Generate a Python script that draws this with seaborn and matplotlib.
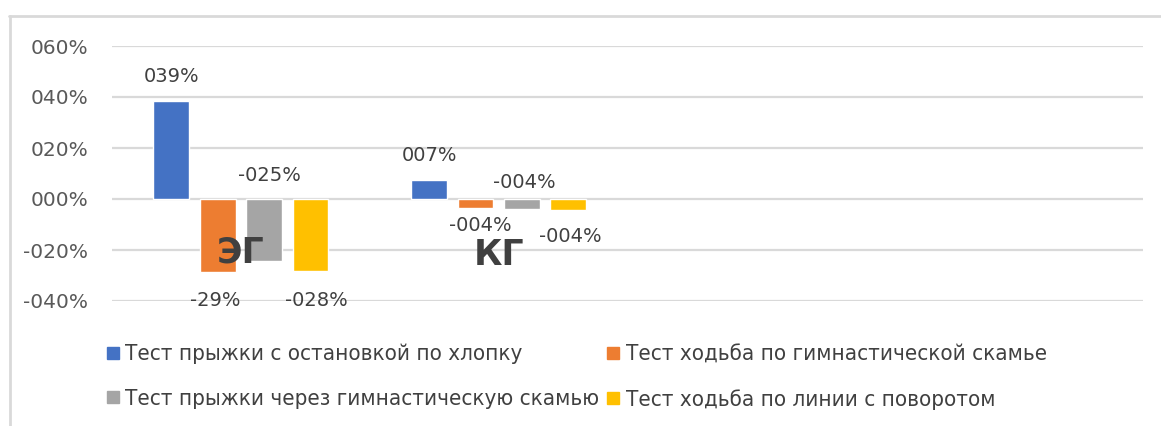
import pandas as pd
import matplotlib.pyplot as plt
import matplotlib.lines as mlines
import seaborn as sns

# Data
groups = ["ЭГ", "КГ"]
tests = [
    "Тест прыжки с остановкой по хлопку",
    "Тест ходьба по гимнастической скамье",
    "Тест прыжки через гимнастическую скамью",
    "Тест ходьба по линии с поворотом",
]
eg_values = [0.385, -0.286, -0.245, -0.282]
kg_values = [0.075, -0.035, -0.040, -0.043]
eg_labels = ["039%", "-29%", "-025%", "-028%"]
kg_labels = ["007%", "-004%", "-004%", "-004%"]
ytick_values = [-0.4, -0.2, 0.0, 0.2, 0.4, 0.6]
ytick_labels = ["-040%", "-020%", "000%", "020%", "040%", "060%"]

colors = ["#4472C4", "#ED7D31", "#A5A5A5", "#FFC000"]

df = pd.DataFrame({
    "group": [groups[0]] * 4 + [groups[1]] * 4,
    "test": tests + tests,
    "value": eg_values + kg_values,
})

sns.set_theme(style="white")
plt.rcParams['font.family'] = ['DejaVu Sans']

W, H = 1161, 426
fig = plt.figure(figsize=(W / 100, H / 100), dpi=100)
ax = fig.add_axes([112 / W, 1 - 301 / H, (1143 - 112) / W, (301 - 46) / H])

sns.barplot(data=df, x="group", y="value", hue="test", order=groups,
            hue_order=tests, palette=colors, width=0.72, gap=0.23,
            saturation=1, ax=ax, legend=False)

ax.set_xlim(-0.5, 3.5)
ax.set_ylim(-0.4, 0.6)
ax.set_yticks(ytick_values)
ax.set_yticklabels(ytick_labels, color="#595959", fontsize=14.5)
ax.tick_params(axis="y", length=0, pad=17)
ax.set_xticks([])
ax.set_xlabel("")
ax.set_ylabel("")
ax.grid(axis="y", color="#d9d9d9", linewidth=1.6)
ax.set_axisbelow(True)
for s in ax.spines.values():
    s.set_visible(False)

# data labels (pixel offsets from bar end, placed like the original)
offsets = [
    [(0, 24), (0, 24)],
    [(-2, -29), (5, -18)],
    [(5, 86), (2, 27)],
    [(6, -30), (2, -27)],
]
labels = [[eg_labels[i], kg_labels[i]] for i in range(4)]
for i, cont in enumerate(ax.containers):
    for j, bar in enumerate(cont):
        x = bar.get_x() + bar.get_width() / 2
        y = bar.get_y() + bar.get_height()
        ax.annotate(labels[i][j], xy=(x, y), xytext=offsets[i][j],
                    textcoords="offset pixels", ha="center", va="center",
                    fontsize=14, color="#404040")

# group names drawn over the bars
ax.text(0.0, -0.208, "ЭГ", ha="center", va="center", fontsize=25,
        fontweight="bold", color="#404040")
ax.text(1.0, -0.22, "КГ", ha="center", va="center", fontsize=25,
        fontweight="bold", color="#404040")

# legend, filled row by row
order = [0, 2, 1, 3]
handles = [mlines.Line2D([], [], marker="s", linestyle="", markersize=8,
                         color=colors[k]) for k in order]
ax.legend(handles, [tests[k] for k in order], ncol=2, frameon=False,
          loc="upper left", bbox_to_anchor=(106 / W, 1 - 344 / H),
          bbox_transform=fig.transFigure,
          borderpad=0, borderaxespad=0, handlelength=0.6, handletextpad=0.25,
          columnspacing=0.35, labelspacing=1.1,
          prop={"family": "DejaVu Sans", "stretch": "condensed", "size": 16},
          labelcolor="#404040")

# chart frame
fig.add_artist(mlines.Line2D([10 / W, 10 / W], [0, 1 - 16 / H],
                             transform=fig.transFigure, color="#d9d9d9", lw=2))
fig.add_artist(mlines.Line2D([9 / W, 1], [1 - 16 / H, 1 - 16 / H],
                             transform=fig.transFigure, color="#d9d9d9", lw=2))

fig.savefig("out.png", dpi=100, facecolor="white")
